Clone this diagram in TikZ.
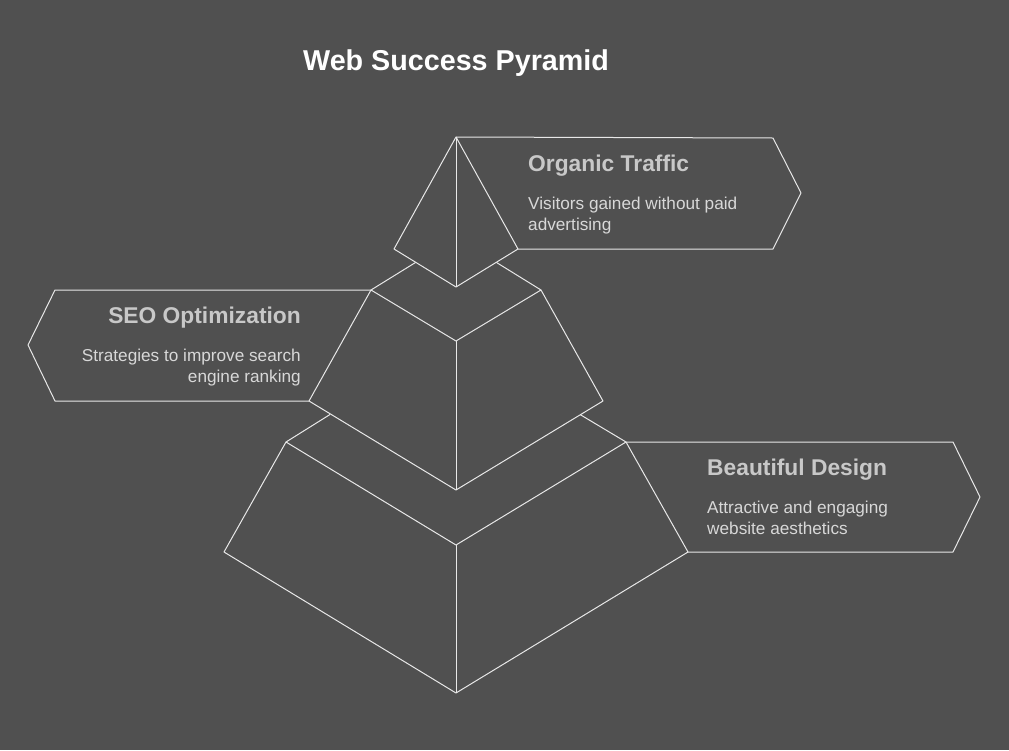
\documentclass[tikz,border=0pt]{standalone}
\usepackage{fontspec}
\setmainfont{Liberation Sans}
\definecolor{bg}{HTML}{505050}
\definecolor{ln}{HTML}{E8E8E8}
\definecolor{hd}{HTML}{C8C8C8}
\definecolor{bd}{HTML}{D8D8D8}
\begin{document}
\begin{tikzpicture}[x=1pt,y=-1pt,
  edge/.style={draw=ln,line width=1pt,line join=round},
  head/.style={font=\fontsize{22.8}{26}\selectfont\bfseries,text=hd,inner sep=0pt},
  body/.style={font=\fontsize{17.2}{20.5}\selectfont,text=bd,inner sep=0pt,align=left}]
\fill[bg] (0,0) rectangle (1009,750);
\useasboundingbox (0,0) rectangle (1009,750);
% coordinates
\coordinate (a) at (456,137);
\coordinate (tl) at (394,249); \coordinate (tr) at (518,249); \coordinate (tb) at (456,287);
\coordinate (ml) at (371,290); \coordinate (mr) at (541,290); \coordinate (mi) at (456,341);
\coordinate (mbl) at (309,401); \coordinate (mbr) at (603,401); \coordinate (mb) at (456,490);
\coordinate (bl) at (286,442); \coordinate (br) at (626,442); \coordinate (bi) at (456,545);
\coordinate (bbl) at (224,552); \coordinate (bbr) at (688,552); \coordinate (bb) at (456,693);
\coordinate (c1) at (415.5,262.5); \coordinate (c2) at (496.5,262.5);
\coordinate (c3) at (330,414.5); \coordinate (c4) at (580,414.5);
% pyramid
\draw[edge] (a) -- (tl) -- (tb) -- (tr) -- cycle; \draw[edge] (a) -- (tb);
\draw[edge] (c1) -- (ml); \draw[edge] (c2) -- (mr);
\draw[edge] (ml) -- (mi) -- (mr) -- (mbr) -- (mb) -- (mbl) -- cycle; \draw[edge] (mi) -- (mb);
\draw[edge] (c3) -- (bl); \draw[edge] (c4) -- (br);
\draw[edge] (bl) -- (bi) -- (br) -- (bbr) -- (bb) -- (bbl) -- cycle; \draw[edge] (bi) -- (bb);
% label boxes
\coordinate (o1) at (773,138); \coordinate (o2) at (801,193); \coordinate (o3) at (773,249);
\draw[edge] (a) -- (o1) -- (o2) -- (o3) -- (tr);
\coordinate (s1) at (55,290); \coordinate (s2) at (28,345); \coordinate (s3) at (55,401);
\draw[edge] (ml) -- (s1) -- (s2) -- (s3) -- (mbl);
\coordinate (d1) at (953,442); \coordinate (d2) at (980,497); \coordinate (d3) at (953,552);
\draw[edge] (br) -- (d1) -- (d2) -- (d3) -- (bbr);
% texts
\node[font=\fontsize{28.7}{32}\selectfont\bfseries,text=white,anchor=west,inner sep=0pt] (title) at (303,63) {Web Success Pyramid};
\node[head,anchor=west] (oh) at (528,166) {Organic Traffic};
\node[body,anchor=north west] (ob) at (528,197) {Visitors gained without paid\\advertising};
\node[head,anchor=east] (sh) at (301,318) {SEO Optimization};
\node[body,anchor=north east,align=right] (sb) at (301,349) {Strategies to improve search\\engine ranking};
\node[head,anchor=west] (dh) at (707,470) {Beautiful Design};
\node[body,anchor=north west] (db) at (707,501) {Attractive and engaging\\website aesthetics};
\end{tikzpicture}
\end{document}
